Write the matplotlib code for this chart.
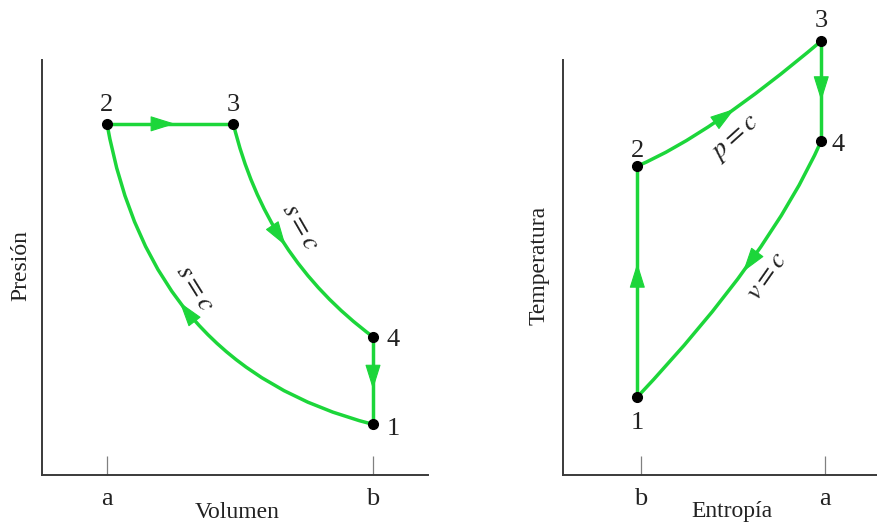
import numpy as np
import matplotlib
matplotlib.use("Agg")
import matplotlib.pyplot as plt
from matplotlib.path import Path
from matplotlib.patches import PathPatch, FancyArrowPatch

plt.rcParams["font.family"] = ["Liberation Serif", "DejaVu Serif"]
plt.rcParams["mathtext.fontset"] = "stix"

# ---------------- data ----------------
# Left panel: Presión - Volumen (states 1..4); process i goes state i -> state i+1
pv_states = ["1", "2", "3", "4"]
pv_volume = [5.0, 1.0, 2.9, 5.0]
pv_pressure = [1.21, 8.46, 8.46, 3.32]
pv_ctrl_volume = [1.65, None, 3.38, None]      # quadratic-curve control point per process
pv_ctrl_pressure = [2.57, None, 5.25, None]
pv_process_labels = [r"$s = c$", None, r"$s = c$", None]
pv_xticks = [1.0, 5.0]
pv_xticklabels = ["a", "b"]

# Right panel: Temperatura - Entropía
ts_states = ["1", "2", "3", "4"]
ts_entropy = [0.98, 0.98, 1.98, 1.98]
ts_temperature = [1.87, 7.44, 10.46, 8.05]
ts_ctrl_entropy = [None, 1.375, None, 1.70]
ts_ctrl_temperature = [None, 8.19, None, 5.25]
ts_process_labels = [None, r"$p = c$", None, r"$v = c$"]
ts_xticks = [1.0, 2.0]
ts_xticklabels = ["b", "a"]

# ---------------- style / layout ----------------
GREEN = "#1cd63a"
W, H = 877, 524
fig = plt.figure(figsize=(W / 100, H / 100), dpi=100)


def frac_box(x0, x1, ytop, ybot):
    return [x0 / W, (H - ybot) / H, (x1 - x0) / W, (ybot - ytop) / H]


axL = fig.add_axes(frac_box(42, 428, 60, 474.5))
axR = fig.add_axes(frac_box(563, 877, 60, 474.5))
axL.set_xlim(0.0226, 5.827)
axL.set_ylim(0, 10)
axR.set_xlim(0.576, 2.283)
axR.set_ylim(0, 10)


def bez(p0, c, p2, t):
    p0, p2 = np.asarray(p0, float), np.asarray(p2, float)
    if c is None:
        return p0 + t * (p2 - p0)
    c = np.asarray(c, float)
    return (1 - t) ** 2 * p0 + 2 * t * (1 - t) * c + t ** 2 * p2


def draw_panel(ax, xs, ys, cxs, cys, states, plabels,
               arrow_t, label_t, label_off, label_rot, state_off):
    n = len(xs)
    segs = []
    for i in range(n):
        j = (i + 1) % n
        p0 = (xs[i], ys[i])
        p2 = (xs[j], ys[j])
        c = None if cxs[i] is None else (cxs[i], cys[i])
        segs.append((p0, c, p2))
        if c is None:
            ax.plot([p0[0], p2[0]], [p0[1], p2[1]], color=GREEN, lw=2.5,
                    solid_capstyle="butt", clip_on=False, zorder=2)
        else:
            path = Path([p0, c, p2], [Path.MOVETO, Path.CURVE3, Path.CURVE3])
            ax.add_patch(PathPatch(path, fc="none", ec=GREEN, lw=2.5,
                                   clip_on=False, zorder=2))
    # arrowheads
    for i, (p0, c, p2) in enumerate(segs):
        t = arrow_t[i]
        tip = bez(p0, c, p2, t)
        prev = bez(p0, c, p2, t - 0.01)
        td = ax.transData.transform(tip)
        pd = ax.transData.transform(prev)
        d = (td - pd) / np.hypot(*(td - pd))
        base = ax.transData.inverted().transform(td - 22 * d)
        ax.add_patch(FancyArrowPatch(posA=base, posB=tip,
                                     arrowstyle="-|>,head_length=1.6,head_width=0.5",
                                     mutation_scale=10, color=GREEN, lw=0.8,
                                     shrinkA=0, shrinkB=0, clip_on=False, zorder=3))
    # process labels
    for i, (p0, c, p2) in enumerate(segs):
        if plabels[i] is None:
            continue
        pt = bez(p0, c, p2, label_t[i])
        ax.annotate(plabels[i], xy=pt, xytext=label_off[i], textcoords="offset points",
                    fontsize=20, rotation=label_rot[i], rotation_mode="anchor",
                    ha="center", va="center", color="#222222", annotation_clip=False)
    # state points
    ax.plot(xs, ys, "o", color="black", ms=7, clip_on=False, zorder=5)
    for i, s in enumerate(states):
        ax.annotate(s, xy=(xs[i], ys[i]), xytext=state_off[i], textcoords="offset points",
                    fontsize=19, ha="center", va="baseline", color="#222222",
                    annotation_clip=False)


draw_panel(axL, pv_volume, pv_pressure, pv_ctrl_volume, pv_ctrl_pressure, pv_states,
           pv_process_labels,
           arrow_t=[0.56, 0.54, 0.51, 0.6],
           label_t=[0.6, None, 0.4, None],
           label_off=[(17.8, 0.6), None, (20.9, -3.5), None],
           label_rot=[-58, None, -60, None],
           state_off=[(14.4, -7.5), (0, 9.5), (0, 9.5), (14.4, -6.5)])

draw_panel(axR, ts_entropy, ts_temperature, ts_ctrl_entropy, ts_ctrl_temperature, ts_states,
           ts_process_labels,
           arrow_t=[0.58, 0.58, 0.6, 0.535],
           label_t=[None, 0.55, None, 0.52],
           label_off=[None, (4.7, -18.5), None, (15.3, -6.2)],
           label_rot=[None, 42, None, 55],
           state_off=[(0, -23), (0, 6.8), (0, 10.3), (12, -7.6)])

for ax, ticks, tlabels, xl, yl, xlx, ylx in [
        (axL, pv_xticks, pv_xticklabels, "Volumen", "Presión", 0.505, (26.7 - 42) / 386),
        (axR, ts_xticks, ts_xticklabels, "Entropía", "Temperatura", 0.538, (545 - 563) / 314)]:
    for side in ("top", "right"):
        ax.spines[side].set_visible(False)
    for side in ("left", "bottom"):
        ax.spines[side].set_color("#3a3a3a")
        ax.spines[side].set_linewidth(1.4)
    ax.set_yticks([])
    ax.set_xticks(ticks, tlabels)
    ax.tick_params(axis="x", direction="in", length=13.7, width=0.9, color="#808080",
                   labelsize=19, pad=10, labelcolor="#222222")
    ax.set_xlabel(xl, fontsize=17, color="#222222")
    ax.xaxis.set_label_coords(xlx, (474.5 - 517.5) / 414.5)
    ax.xaxis.label.set_verticalalignment("baseline")
    ax.set_ylabel(yl, fontsize=17, color="#222222")
    ax.yaxis.set_label_coords(ylx, 0.505)
    ax.yaxis.label.set_verticalalignment("baseline")
    ax.patch.set_alpha(0)

fig.savefig("out.png", dpi=100)
